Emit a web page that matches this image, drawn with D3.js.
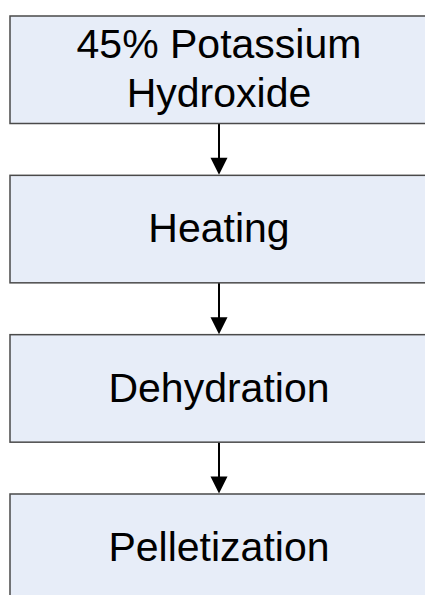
<!DOCTYPE html>
<html lang="en">
  <head>
    <meta charset="utf-8">
    <title>Process Flow</title>
    <style>
      html, body { margin: 0; padding: 0; background: #fff; }
      svg { display: block; }
    </style>
  </head>
  <body>
    <svg class="flow"></svg>

    <script src="https://d3js.org/d3.v7.min.js"></script>
    <script type="text/javascript">
      var w = 425;
      var h = 595;

      // process steps, one line of text per entry
      var steps = ["step1", "step2", "step3", "step4"];
      var labels = [
        ["45% Potassium", "Hydroxide"],
        ["Heating"],
        ["Dehydration"],
        ["Pelletization"]
      ];

      var boxLeft = 10;
      var boxRight = 428;
      var boxHeight = 107.5;
      var fontSize = 41;
      var lineGap = 49;

      var svg = d3.select('.flow')
                  .attr('width', w)
                  .attr('height', h);

      // top of each box
      var y = d3.scaleLinear()
                .domain([0, steps.length - 1])
                .range([16, 494]);

      var cx = (boxLeft + boxRight) / 2;

      // arrows between boxes
      var links = d3.range(steps.length - 1);

      svg.selectAll('line.link')
         .data(links)
         .enter()
         .append('line')
         .attr('class', 'link')
         .attr('x1', cx)
         .attr('x2', cx)
         .attr('y1', function(d) { return y(d) + boxHeight; })
         .attr('y2', function(d) { return y(d + 1) - 16; })
         .attr('stroke', '#000')
         .attr('stroke-width', 2);

      svg.selectAll('path.head')
         .data(links)
         .enter()
         .append('path')
         .attr('class', 'head')
         .attr('d', function(d) {
           var tip = y(d + 1) - 0.5;
           return 'M' + (cx - 8.5) + ',' + (tip - 17) +
                  'L' + (cx + 8.5) + ',' + (tip - 17) +
                  'L' + cx + ',' + tip + 'Z';
         })
         .attr('fill', '#000');

      var g = svg.selectAll('g.step')
                 .data(steps)
                 .enter()
                 .append('g')
                 .attr('class', 'step');

      g.append('rect')
       .attr('x', boxLeft)
       .attr('y', function(d, i) { return y(i); })
       .attr('width', boxRight - boxLeft)
       .attr('height', boxHeight)
       .attr('fill', '#e7edf8')
       .attr('stroke', '#4a4a4a')
       .attr('stroke-width', 1.5);

      g.each(function(d, i) {
        var lines = labels[i];
        var mid = y(i) + boxHeight / 2;
        var first = mid - (lines.length - 1) * lineGap / 2;
        d3.select(this).selectAll('text')
          .data(lines)
          .enter()
          .append('text')
          .attr('x', cx)
          .attr('y', function(t, j) { return first + j * lineGap; })
          .attr('dy', '0.32em')
          .attr('text-anchor', 'middle')
          .attr('font-family', 'Liberation Sans, Arial, sans-serif')
          .attr('font-size', fontSize)
          .attr('fill', '#000')
          .text(function(t) { return t; });
      });
    </script>
  </body>
</html>
